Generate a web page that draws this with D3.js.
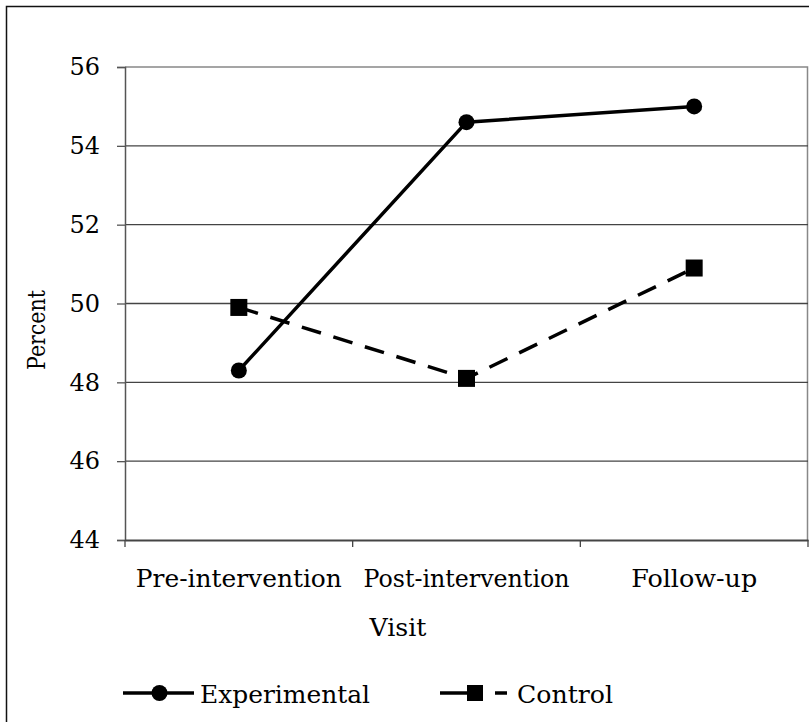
<!DOCTYPE html>
<html>
<head>
<meta charset="utf-8">
<script src="https://cdn.jsdelivr.net/npm/d3@7"></script>
<style>
    body { margin: 0; background: #fff; }
    text { font-family: "DejaVu Serif", serif; fill: #000; }
</style>
</head>
<body>
<div id="chart"></div>
<script>
const visits = ['Pre-intervention', 'Post-intervention', 'Follow-up'];
const experimental = [48.3, 54.6, 55.0];
const control = [49.9, 48.1, 50.9];
const yTicks = [44, 46, 48, 50, 52, 54, 56];

const width = 809, height = 722;
const plot = { left: 125, right: 808, top: 67, bottom: 540 };

const svg = d3.select('#chart')
    .append('svg')
    .attr('width', width)
    .attr('height', height);

// outer frame
svg.append('path')
    .attr('d', `M6.5,${height} V6.5 H${width}`)
    .attr('fill', 'none')
    .attr('stroke', '#111')
    .attr('stroke-width', 1.5);

const x = d3.scaleBand()
    .domain(visits)
    .range([plot.left, plot.right]);

const y = d3.scaleLinear()
    .domain([44, 56])
    .range([plot.bottom, plot.top]);

// plot area border (top/right)
svg.append('path')
    .attr('d', `M${plot.left},${plot.top} H${plot.right - 0.5} V${plot.bottom}`)
    .attr('fill', 'none')
    .attr('stroke', '#888')
    .attr('stroke-width', 1.5);

// gridlines
svg.append('g')
    .selectAll('line')
    .data(yTicks.filter(d => d > 44 && d < 56))
    .enter()
    .append('line')
    .attr('x1', plot.left)
    .attr('x2', plot.right)
    .attr('y1', d => y(d))
    .attr('y2', d => y(d))
    .attr('stroke', '#444')
    .attr('stroke-width', 1.3);

// y axis
const yAxis = svg.append('g')
    .attr('transform', `translate(${plot.left},0)`)
    .call(d3.axisLeft(y).tickValues(yTicks).tickSize(8).tickPadding(17));
yAxis.select('.domain').attr('stroke', '#555').attr('stroke-width', 1.5);
yAxis.selectAll('.tick line').attr('stroke', '#555').attr('stroke-width', 1.3);
yAxis.selectAll('text').attr('font-size', 24).attr('font-family', '"DejaVu Serif", serif');

// x axis
const xAxis = svg.append('g')
    .attr('transform', `translate(0,${plot.bottom})`)
    .call(d3.axisBottom(x).tickSize(0).tickPadding(30));
xAxis.select('.domain').attr('stroke', '#444').attr('stroke-width', 2.2);
xAxis.selectAll('text').attr('font-size', 24).attr('font-family', '"DejaVu Serif", serif')
    .attr('textLength', d => d === 'Follow-up' ? 126 : 206)
    .attr('lengthAdjust', 'spacingAndGlyphs');

// x ticks at band edges
svg.append('g')
    .selectAll('line')
    .data(visits.map(d => x(d)).concat([x.range()[1]]))
    .enter()
    .append('line')
    .attr('x1', d => d).attr('x2', d => d)
    .attr('y1', plot.bottom).attr('y2', plot.bottom + 7)
    .attr('stroke', '#444')
    .attr('stroke-width', 1.3);

// axis titles
svg.append('text')
    .attr('transform', `translate(45,330) rotate(-90)`)
    .attr('text-anchor', 'middle')
    .attr('font-size', 24)
    .attr('textLength', 80)
    .attr('lengthAdjust', 'spacingAndGlyphs')
    .text('Percent');

svg.append('text')
    .attr('x', 398)
    .attr('y', 636)
    .attr('text-anchor', 'middle')
    .attr('font-size', 24)
    .attr('textLength', 57)
    .attr('lengthAdjust', 'spacingAndGlyphs')
    .text('Visit');

const cx = d => x(d) + x.bandwidth() / 2;

const line = d3.line()
    .x(d => cx(d.visit))
    .y(d => y(d.value));

const expData = visits.map((v, i) => ({ visit: v, value: experimental[i] }));
const ctlData = visits.map((v, i) => ({ visit: v, value: control[i] }));

svg.append('path')
    .datum(ctlData)
    .attr('d', line)
    .attr('fill', 'none')
    .attr('stroke', '#000')
    .attr('stroke-width', 3.5)
    .attr('stroke-dasharray', '20,13');

svg.append('path')
    .datum(expData)
    .attr('d', line)
    .attr('fill', 'none')
    .attr('stroke', '#000')
    .attr('stroke-width', 3.5);

svg.append('g')
    .selectAll('rect')
    .data(ctlData)
    .enter()
    .append('rect')
    .attr('x', d => cx(d.visit) - 8.5)
    .attr('y', d => y(d.value) - 8.5)
    .attr('width', 17)
    .attr('height', 17)
    .attr('fill', '#000');

svg.append('g')
    .selectAll('circle')
    .data(expData)
    .enter()
    .append('circle')
    .attr('cx', d => cx(d.visit))
    .attr('cy', d => y(d.value))
    .attr('r', 8)
    .attr('fill', '#000');

// legend
const ly = 693;
const legend = svg.append('g');
legend.append('line')
    .attr('x1', 123).attr('x2', 194).attr('y1', ly).attr('y2', ly)
    .attr('stroke', '#000').attr('stroke-width', 3.5);
legend.append('circle')
    .attr('cx', 159.5).attr('cy', ly).attr('r', 8).attr('fill', '#000');
legend.append('text')
    .attr('x', 200).attr('y', ly + 10)
    .attr('font-size', 24)
    .attr('textLength', 170)
    .attr('lengthAdjust', 'spacingAndGlyphs')
    .text('Experimental');

legend.append('line')
    .attr('x1', 440).attr('x2', 468).attr('y1', ly).attr('y2', ly)
    .attr('stroke', '#000').attr('stroke-width', 3.5);
legend.append('rect')
    .attr('x', 467).attr('y', ly - 8).attr('width', 16).attr('height', 16).attr('fill', '#000');
legend.append('line')
    .attr('x1', 495).attr('x2', 507).attr('y1', ly).attr('y2', ly)
    .attr('stroke', '#000').attr('stroke-width', 3.5);
legend.append('text')
    .attr('x', 517).attr('y', ly + 10)
    .attr('font-size', 24)
    .attr('textLength', 96)
    .attr('lengthAdjust', 'spacingAndGlyphs')
    .text('Control');
</script>
</body>
</html>
